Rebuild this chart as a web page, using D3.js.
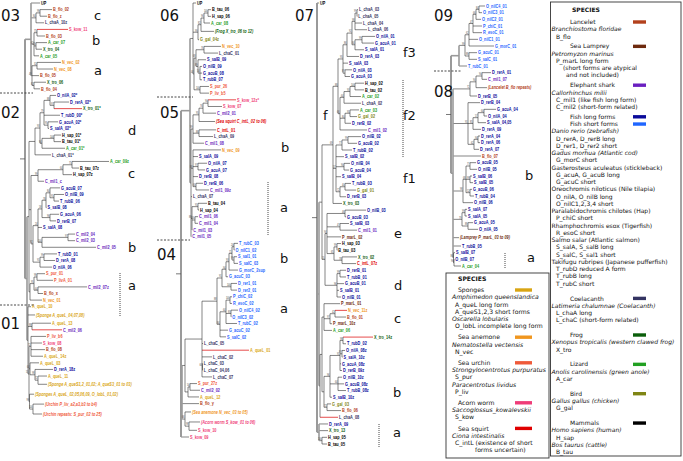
<!DOCTYPE html>
<html><head><meta charset="utf-8">
<script src="https://cdn.jsdelivr.net/npm/d3@7"></script>
<style>body{margin:0;background:#fff}svg{display:block}</style>
</head><body>
<svg id="c" width="683" height="461"></svg>
<script>
// ---------------- DATA: trees (Newick, branch lengths + support values) ----------------
// Column 1 (clades 03, 02, 01)
const clade03 = "(UP:9,((B_flo_02:12,B_flo_z:7)98:4,L_chaA_10z:8)84:5,((S_kow_11:31,B_flo_03:8)75:3,(A_car_07:11,X_tro_04:6)70:2,A_car_05:5)62:3,((N_vec_02:24,N_vec_08:16)32:5,B_flo_05:7,(X_tro_06:12,B_flo_04:6)82:2)49:1)";
const clade02d = "((((O_nilA_02*:6,(D_rerA_02*:15,X_tro_01*:28)97:4)88:6,T_rubD_00*:16,(G_acuA_02*:10,S_salA_02*:1)95:4)79:4,((H_sap_01*:7,B_tau_01*:7)100:12,A_car_01*:23)94:2)93:5,L_chaA_01*:16)";
const clade02c = "(((A_car_09z:37,B_tau_07z:7)75:9,H_sap_07z:9)64:25,C_mil1_c:6)";
const clade02b = "(((((G_acuB_07:10,(O_nilB_09:10,T_rubB_06:5)91:4)84:4,S_salB_08:0.5)78:4,(G_acuA_06:9,D_rerB_07:6)96:8)58:4,S_salA_08:4,((C_mil2_04:7,C_mil2_03:7)97:26,C_mil2_05:54)100:4)24:5,((T_rubD_01:13,D_rerA_08:11)99:4,O_nilA_06:12)91:7)";
const clade02a = "(((S_pur_01:8,P_livA_01:16)98:3,(C_mil2_07z:49,B_flo_x:5)64:4)95:4,N_vec_01:12)";
const clade01 = "(A_queL_10:3,'(Sponge A_queL_04,07,08)':7,(A_queL_13:19,C_mil2_06:30)88:4,((P_liv_b6:15,S_kow_08:11,B_flo_08:14,A_queL_14z:12)72:2,(A_queL_03:9,(D_rerA_18z:18,(A_queL_11:9,'(Sponge A_queS1,2_01,02; A_queS3_01 to 03)':9)72:3)98:5)64:1,('(Sponges A_queL_02,05,06,09, O_lobL_01,02)':4.5,('(Urchin P_liv_a2,a3,b3 to b4)':11,'(Urchin repeats: S_pur_02 to 25)':9)100:3.5)99:0.5)55:1)";
const tree1 = "(" + clade03 + ":6,((" + clade02d + ":6,(" + clade02c + "99:7," + clade02b + "92:2):2," + clade02a + ":1):2," + clade01 + ":1):2);";

// Column 2 (clades 06, 05, 04)
const clade06 = "(UP:3,((((B_tau_06:3,H_sap_06:3)100:4,A_car_08:6)96:3,'(Frog X_tro_06 to 12)':13)82:3,G_gal_04z:1)99:5,(((N_vec_10:17,L_chaC_01:14)76:8,(S_salB_09:8,(O_nilB_09:2,G_acuB_08:2,T_rubB_07:2)54:2)89:2)68:2,(S_pur_26:9,P_liv_b5:9)100:6)44:1)";
const clade05c = "((((S_kow_12z*:28,S_kow_07:14)94:5,C_mil2_01:13)76:4,'(Sea squirt C_intL_02 to 06)':16)95:6,(C_intL_01:17,L_chaA_09:14)88:6,C_mil1_08:11)";
const clade05b = "(N_vec_09:28,S_salA_09:5,(O_nilA_07:9,G_acuA_07:7)97:5,D_rerB_08:5,(D_rerB_06:7,C_mil1_09z:13)60:3)";
const clade05a = "((B_tau_04:9,H_sap_04:1)91:6,(C_mil1_06:3,C_mil1_04:3)100:3,C_mil1_03:0.3)";
const clade04b = "(((((T_rubC_03:4,O_nilC1_02:0.5)24:2,(S_sal1_01:3,S_salC_03:4)99:2)71:3,G_morC_2sup:9)93:3,G_acuC_03:2)94:4,(D_rer1_01:6,D_rer2_01:6)100:9)";
const clade04a = "(((P_chiC_02:2,R_esoC_02:2)100:4,(O_nilC4_02:7,O_nilC3_02:0.3)83:5,T_rubC_02:11)64:6,G_acuC_02:8,S_salC_02:6)";
const clade04rest = "((((" + clade04b + "91:5," + clade04a + "84:3)88:15,L_chaC_05:1,A_queL_01:47,L_chaC_02:10,(L_chaC_03:0.3,'L_chaC_04,06':0.3)66:0.5,L_chaC_07:10):17,((S_pur_27z:7,C_mil2_02:10)54:2,A_queL_12:11):3):3,B_flo_y:17,('(Sea anemone N_vec_03 to 05)':6,('(Acorn worm S_kow_01 to 06)':11,S_kow_10:8)98:4)66:3)";
const tree2 = "((" + clade06 + ":3,(" + clade05c + "99:2," + clade05b + "89:2,L_chaA_07:1," + clade05a + "88:1,C_mil1_05:0.3):1):9," + clade04rest + ":1,S_kow_09:8);";

// Column 3 (clade 07)
const clade07f3 = "(((((L_chaA_03:1,L_chaA_05:0.3)99:2,L_chaA_04:7,L_chaA_06:12)98:3,((O_nilA_01:13,G_acuA_01:12)99:7,S_salA_01:9)84:3)92:5,D_rerA_03:12)86:4,S_salA_03:5,(O_nilA_03:7,G_acuA_03:5)87:2)";
const clade07f2 = "((((H_sap_02:9,B_tau_02:9)100:5,A_car_02:11)93:6,L_chaA_02:17)64:4,((A_car_03:9,G_gal_02:7)95:5,D_rerB_02:6)80:5,C_mil1_02:27)";
const clade07f1 = "(((O_nilB_02:13,G_acuB_02:9)99:6,T_rubB_02:10)77:6,S_salB_02:8,(O_nilB_04:6,G_acuB_04:5)90:8,S_salB_04:5,((T_rubB_03:6,G_gal_01:11)40:5,D_rerB_03:6)72:4)";
const clade07e = "((O_nilB_03:21,G_acuB_03:1)46:18,(S_salB_03:9,C_mil1_01:17)47:13,P_marL_02:14,((H_sap_03:4,B_tau_03:0.3)99:3,(X_tro_02:15,C_intL_07z:14)78:8)65:7)";
const clade07d = "((D_rerB_01:6,T_rubB_01:6)99:3,G_acuB_01:7,S_salB_01:2,O_nilB_01:4)";
const clade07c = "(P_marL_01:16,((N_vec_11z:12,B_flo_01:11)42:5,P_marL_10z:2)97:6,A_car_06:8)";
const clade07b = "((((X_tro_14z:30,T_rubD_02:3)98:3,(O_nilA_08z:3,S_salA_10z:0.5)97:2,G_acuA_08z:1,D_rerB_09z:2)91:10,(O_nilB_10z:4,G_acuB_08z:6,T_rubB_08z:8)64:8,S_salB_10z:2)96:6,(G_gal_03:4,B_flo_06:14)71:3)";
const clade07a = "(D_rerA_09:9,X_tro_13:9,(H_sap_05:5,B_tau_05:5)100:3)";
const tree3 = "(UP:2,((((" + clade07f3 + "95:5," + clade07f2 + "66:2)88:5," + clade07f1 + "57:3,X_tro_03:9)69:11,(" + clade07e + "94:2," + clade07d + "96:12)55:3):3,((" + clade07c + ":2," + clade07b + ":2):2,L_chaA_08:18):1):2," + clade07a + ":2);";

// Column 4 (clades 09, 08)
const clade09 = "((((((O_nilC4_01:6,O_nilC3_01:3)84:3,O_nilC2_01:5)66:3,P_chiC_01:9,R_esoC_01:9)47:4,O_nilC1_01:9,G_morC_01:25)62:4,(G_acuC_01:8,S_salC_01:8)88:4)99:6,T_rubC_01:8)";
const clade08 = "((((D_rerA_01:9,C_mil1_07:5)94:6,'(Lancelet B_flo repeats)':11)90:6,D_rerB_05:7)72:17,(D_rerB_04:12,(((G_acuA_04:12,O_nilA_04:3)64:6,'S_salA_04,05':8)57:5,D_rerA_09:8)85:5,((D_rerA_04:2,D_rerA_06:2)94:4,D_rerA_07:5)62:6)91:15,B_flo_07:28,(((G_acuB_05:6,O_nilB_05:7)77:4,(S_salB_06:2,S_salB_05:3)99:4,(G_acuB_06:2,T_rubB_04:4)52:4)68:3,O_nilB_06:10)98:10,((S_salA_07:2,S_salA_05:2)99:3,(G_acuA_05:5,O_nilA_05:10)88:6)79:9,'(Lamprey P_marL_03 to 09)':6,T_rubB_05:8,(S_salB_07:1.5,(O_nilB_07:0.3,A_car_04:7)96:0.5)86:0.5)";
const tree4 = "(" + clade09 + ":8," + clade08 + ":2);";

// Leaves whose (long) branch is highlighted in red
const redBranches = ["S_kow_11","X_tro_01*","C_mil2_06","S_kow_12z*","A_queL_01","X_tro_14z","N_vec_11z","L_chaA_08"];

// Clade names and sub-clade letters
const cladeNames = ["03","02","01","06","05","04","07","09","08"];
const subcladeLetters = ["c","b","a","d","c","b","a","b","a","b","a","f3","f","f2","f1","e","d","c","b","a","b","a"];

// Legends
const legendSpecies = [
 ["head","SPECIES"],
 ["title","Lancelet","B_flo"],
 ["sp","Branchiostoma floridae"],
 ["code","B_flo"],
 ["title","Sea Lamprey","P_mar"],
 ["sp","Petromyzon marinus"],
 ["code","P_marL long form"],
 ["note","(short forms are atypical"],
 ["note2","and not included)"],
 ["title","Elephant shark","C_mil"],
 ["sp","Callorhinchus milii"],
 ["code","C_mil1 (like fish long form)"],
 ["code","C_mil2 (short-form related)"],
 ["title","Fish long forms","fishLong"],
 ["title2","Fish short forms","fishShort"],
 ["sp","Danio rerio (zebrafish)"],
 ["code","D_rerA, D_rerB long"],
 ["code","D_rer1, D_rer2 short"],
 ["sp","Gadus morhua (Atlantic cod)"],
 ["code","G_morC short"],
 ["name","Gasterosteus aculeatus (stickleback)"],
 ["code","G_acuA, G_acuB long"],
 ["code","G_acuC short"],
 ["name","Oreochromis niloticus (Nile tilapia)"],
 ["code","O_nilA, O_nilB long"],
 ["code","O_nilC1,2,3,4 short"],
 ["name","Paralabidochromis chilotes (Hap)"],
 ["code","P_chiC short"],
 ["name","Rhamphochromis esox (Tigerfish)"],
 ["code","R_esoC short"],
 ["name","Salmo salar (Atlantic salmon)"],
 ["code","S_salA, S_salB long"],
 ["code","S_salC, S_sal1 short"],
 ["name","Takifugu rubripes (Japanese pufferfish)"],
 ["code","T_rubD reduced A form"],
 ["code","T_rubB long"],
 ["code","T_rubC short"],
 ["blank",""],
 ["title","Coelacanth","L_cha"],
 ["sp","Latimeria chalumnae (Coelacanth)"],
 ["code","L_chaA long"],
 ["code","L_chaC (short-form related)"],
 ["blank",""],
 ["title","Frog","X_tro"],
 ["sp","Xenopus tropicalis (western clawed frog)"],
 ["code","X_tro"],
 ["blank",""],
 ["title","Lizard","A_car"],
 ["sp","Anolis carolinensis (green anole)"],
 ["code","A_car"],
 ["blank",""],
 ["title","Bird","G_gal"],
 ["sp","Gallus gallus (chicken)"],
 ["code","G_gal"],
 ["blank",""],
 ["title","Mammals","mammal"],
 ["sp","Homo sapiens (human)"],
 ["code","H_sap"],
 ["sp","Bos taurus (cattle)"],
 ["code","B_tau"]
];
const legendInvertebrates = [
 ["head","SPECIES"],
 ["title","Sponges","A_que"],
 ["sp","Amphimedon queenslandica"],
 ["code","A_queL long form"],
 ["code","A_queS1,2,3 short forms"],
 ["sp","Oscarella lobularis"],
 ["code","O_lobL incomplete long form"],
 ["title","Sea anemone","N_vec"],
 ["sp","Nematostella vectensis"],
 ["code","N_vec"],
 ["title","Sea urchin","urchin"],
 ["sp","Strongylocentrotus purpuratus"],
 ["code","S_pur"],
 ["sp","Paracentrotus lividus"],
 ["code","P_liv"],
 ["title","Acorn worm","S_kow"],
 ["sp","Saccoglossus_kowalevskii"],
 ["code","S_kow"],
 ["title","Sea squirt","C_int"],
 ["sp","Ciona intestinalis"],
 ["code","C_intL (existence of short"],
 ["note","forms uncertain)"]
];

// ---------------- STYLE / LAYOUT ----------------
const palette = {
  B_flo:"#b3401c", P_mar:"#6e2a0e", C_mil:"#6a1fc0", fishLong:"#0a0a9a", fishShort:"#1f66ff",
  L_cha:"#343462", X_tro:"#0b5e0b", A_car:"#22a022", G_gal:"#7f8514", mammal:"#000000",
  A_que:"#d9a514", N_vec:"#f0961e", urchin:"#ef5a3a", S_kow:"#ef3c78", C_int:"#e00000"
};
const codeKey = {B_flo:"B_flo",P_mar:"P_mar",C_mil:"C_mil",C_int:"C_int",L_cha:"L_cha",X_tro:"X_tro",A_car:"A_car",
  G_gal:"G_gal",H_sap:"mammal",B_tau:"mammal",UP:"mammal",A_que:"A_que",O_lob:"A_que",N_vec:"N_vec",S_pur:"urchin",
  P_liv:"urchin",S_kow:"S_kow"};
const codeRe = /(B_flo|P_mar|C_mil|C_int|L_cha|X_tro|A_car|G_gal|H_sap|B_tau|A_que|O_lob|N_vec|S_pur|P_liv|S_kow|D_rer[12]|G_morC|G_acuC|O_nilC|P_chiC|R_esoC|S_salC|S_sal1|T_rubC|D_rer|G_acu|O_nil|S_sal|T_rub|UP)/;
function colorFor(name){
  const m = codeRe.exec(name);
  if(!m) return "#000";
  const c = m[1];
  if(codeKey[c]) return palette[codeKey[c]];
  if(/^(D_rer[12]|G_morC|G_acuC|O_nilC|P_chiC|R_esoC|S_salC|S_sal1|T_rubC)$/.test(c)) return palette.fishShort;
  return palette.fishLong;
}

function parseNewick(str){
  const s = str.trim(); let i = 0;
  function readName(){
    if(s[i] === "'"){ const j = s.indexOf("'", i+1); const nm = s.slice(i+1, j); i = j+1; return nm; }
    let j = i; while(j < s.length && ",():;".indexOf(s[j]) < 0) j++;
    const nm = s.slice(i, j).trim(); i = j; return nm;
  }
  function readNode(){
    const n = {name:"", len:0};
    if(s[i] === "("){
      i++; n.children = [];
      for(;;){
        n.children.push(readNode());
        if(s[i] === ","){ i++; continue; }
        if(s[i] === ")"){ i++; break; }
        throw new Error("newick parse error at " + i + ": " + s.slice(i, i+30));
      }
    }
    n.name = readName();
    if(s[i] === ":"){ i++; let j = i; while(j < s.length && ",();".indexOf(s[j]) < 0) j++; n.len = parseFloat(s.slice(i, j)); i = j; }
    return n;
  }
  return readNode();
}

const svg = d3.select("#c");
const FONT = "'Liberation Sans', Arial, sans-serif";
const columns = [
  {tree: tree1, rootX: 25,  yTop: 3, yBottom: 414},
  {tree: tree2, rootX: 181, yTop: 3, yBottom: 437},
  {tree: tree3, rootX: 317, yTop: 3, yBottom: 444},
  {tree: tree4, rootX: 451, yTop: 6, yBottom: 266}
];
const isGroup = n => n && n[0] === "(";

columns.forEach(col => {
  const root = d3.hierarchy(parseNewick(col.tree), d => d.children);
  root.eachBefore(d => { d.dist = d.parent ? d.parent.dist + d.data.len : 0; });
  const leaves = root.leaves();
  let acc = 0;
  leaves.forEach(l => { const h = isGroup(l.data.name) ? 1.5 : 1; l.row = acc + h/2; acc += h; });
  const y = d3.scaleLinear().domain([leaves[0].row, leaves[leaves.length-1].row]).range([col.yTop, col.yBottom]);
  const x = d3.scaleLinear().domain([0, 100]).range([col.rootX, col.rootX + 100]);
  root.eachAfter(d => {
    d.px = x(d.dist);
    d.py = d.children ? (d.children[0].py + d.children[d.children.length-1].py) / 2 : y(d.row);
  });
  const g = svg.append("g");
  const nodes = root.descendants();
  const isRed = d => redBranches.includes(d.data.name);
  const trunk = d => d.parent && d.parent.depth === 0 && d.children;
  g.selectAll("line.h").data(nodes.filter(d => d.parent)).join("line")
    .attr("x1", d => d.parent.px).attr("x2", d => d.px)
    .attr("y1", d => d.py).attr("y2", d => d.py)
    .attr("stroke", d => isRed(d) ? "#e02020" : (trunk(d) ? "#9a9a9a" : "#333"))
    .attr("stroke-width", d => isRed(d) ? 0.8 : (trunk(d) ? 1.6 : 0.6));
  g.selectAll("line.v").data(nodes.filter(d => d.children)).join("line")
    .attr("x1", d => d.px).attr("x2", d => d.px)
    .attr("y1", d => d.children[0].py).attr("y2", d => d.children[d.children.length-1].py)
    .attr("stroke", d => d.depth <= 1 ? "#9a9a9a" : "#333")
    .attr("stroke-width", d => d.depth === 0 ? 2 : (d.depth === 1 ? 1.6 : 0.6));
  g.append("line").attr("x1", root.px - 5).attr("x2", root.px).attr("y1", root.py).attr("y2", root.py)
    .attr("stroke", "#555").attr("stroke-width", 0.8);
  g.selectAll("text.leaf").data(leaves).join("text")
    .attr("transform", d => `translate(${d.px + 1},${d.py}) scale(0.8,1)`)
    .attr("dy", "0.35em")
    .attr("font-family", FONT).attr("font-size", 4.8)
    .attr("font-weight", "bold")
    .attr("font-style", d => isGroup(d.data.name) ? "italic" : "normal")
    .attr("fill", d => colorFor(d.data.name))
    .text(d => d.data.name);
  g.selectAll("text.sup").data(nodes.filter(d => d.children && d.data.name)).join("text")
    .attr("transform", d => `translate(${d.px - 0.4},${d.py - 0.7}) scale(0.8,1)`)
    .attr("text-anchor", "end")
    .attr("font-family", FONT).attr("font-size", 2.8).attr("fill", "#444")
    .text(d => d.data.name);
});

const cladePos = [[1,21],[1,118],[1,329],[160,21],[160,118],[157,260],[295,21],[434,21],[434,97]];
svg.append("g").selectAll("text").data(cladeNames).join("text")
  .attr("x", (d,i) => cladePos[i][0]).attr("y", (d,i) => cladePos[i][1])
  .attr("font-family", "'DejaVu Sans', sans-serif").attr("font-size", 15).attr("fill", "#111")
  .text(d => d);
const letterPos = [[94,20],[92,45],[94,75],[128,135],[128,178],[128,252],[128,290],
  [281,152],[280,212],[280,263],[280,313],
  [403,57],[323,120],[403,120],[403,183],[394,238],[394,290],[394,323],[393,397],[393,437],
  [525,180],[527,262]];
svg.append("g").selectAll("text").data(subcladeLetters).join("text")
  .attr("x", (d,i) => letterPos[i][0]).attr("y", (d,i) => letterPos[i][1])
  .attr("font-family", "'DejaVu Sans', sans-serif").attr("font-size", 13).attr("fill", "#111")
  .text(d => d);

const hSeps = [[0,33,93],[0,35,305],[157,193,97],[157,190,240],[434,462,71]];
svg.append("g").selectAll("line").data(hSeps).join("line")
  .attr("x1", d => d[0]).attr("x2", d => d[1]).attr("y1", d => d[2]).attr("y2", d => d[2])
  .attr("stroke", "#333").attr("stroke-width", 0.9).attr("stroke-dasharray", "2,1.5");
const vSeps = [[120,273,316],[268,182,235],[403,80,157],[379,424,447],[505,253,268]];
svg.append("g").selectAll("line").data(vSeps).join("line")
  .attr("x1", d => d[0]).attr("x2", d => d[0]).attr("y1", d => d[1]).attr("y2", d => d[2])
  .attr("stroke", "#333").attr("stroke-width", 0.9).attr("stroke-dasharray", "1,1");

function drawLegend(rows, opt){
  const g = svg.append("g");
  g.append("rect").attr("x", opt.box[0]).attr("y", opt.box[1]).attr("width", opt.box[2]).attr("height", opt.box[3])
    .attr("fill", "#fff").attr("stroke", "#333").attr("stroke-width", 0.9);
  let y = opt.y0;
  const xMap = {head: opt.xHead, title: opt.xTitle, title2: opt.xTitle, sp: opt.xSp, name: opt.xSp, code: opt.xCode, note: opt.xNote, note2: opt.xNote2};
  rows.forEach((r, i) => {
    const [type, text, key] = r;
    if(i > 0){
      if(type === "blank"){ y += opt.blank; return; }
      y += (i === 1 ? opt.first : opt.adv + (type === "title" ? opt.gap : 0));
    }
    g.append("text").attr("x", xMap[type]).attr("y", y).attr("dy", "0.35em")
      .attr("font-family", "'DejaVu Sans', sans-serif").attr("font-size", opt.fs)
      .attr("font-weight", type === "head" ? "bold" : "normal")
      .attr("font-style", type === "sp" ? "italic" : "normal")
      .attr("fill", "#111").text(text);
    if(key){
      g.append("rect").attr("x", opt.sw[0]).attr("y", y - 1.7).attr("width", opt.sw[1]).attr("height", 3.4)
        .attr("fill", palette[key]);
    }
  });
}
drawLegend(legendSpecies, {box:[550.5,2,130.5,454], y0:10, first:12, adv:7.25, gap:2.6, blank:5,
  xHead:572, xTitle:570, xSp:551.5, xCode:556, xNote:563, xNote2:566, fs:6.0, sw:[633,13]});
drawLegend(legendInvertebrates, {box:[446,273,103,185], y0:279, first:11, adv:7.2, gap:4, blank:5,
  xHead:458, xTitle:458, xSp:452, xCode:455, xNote:475, xNote2:475, fs:6.1, sw:[515,17]});
</script>
</body></html>
